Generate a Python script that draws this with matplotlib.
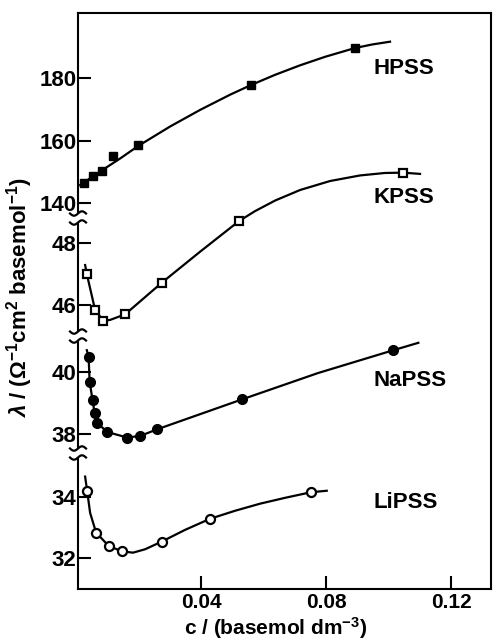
import numpy as np
import matplotlib
matplotlib.use("Agg")
import matplotlib.pyplot as plt
from matplotlib.patches import Rectangle

plt.rcParams['font.family'] = ['Liberation Sans', 'DejaVu Sans']
plt.rcParams['font.weight'] = 'bold'
plt.rcParams['mathtext.fontset'] = 'custom'
plt.rcParams['mathtext.rm'] = 'Liberation Sans:bold'
plt.rcParams['mathtext.it'] = 'Liberation Sans:bold:italic'
plt.rcParams['mathtext.bf'] = 'Liberation Sans:bold'

# measured points
hpss_c = [0.00256, 0.00534, 0.00822, 0.0119, 0.0199, 0.056, 0.0893]
hpss_l = [146.5, 148.7, 150.3, 155.0, 158.6, 177.8, 189.6]
kpss_c = [0.00342, 0.00608, 0.00874, 0.01568, 0.02742, 0.05216, 0.10474]
kpss_l = [47.00, 45.84, 45.49, 45.70, 46.72, 48.71, 50.27]
napss_c = [0.0040, 0.00432, 0.00528, 0.00592, 0.00682, 0.00992, 0.01632,
           0.02048, 0.02576, 0.0532, 0.1015]
napss_l = [40.49, 39.68, 39.07, 38.66, 38.34, 38.05, 37.87, 37.92, 38.14,
           39.11, 40.70]
lipss_c = [0.00352, 0.0064, 0.0104, 0.01472, 0.02742, 0.04288, 0.0751]
lipss_l = [34.19, 32.83, 32.40, 32.22, 32.54, 33.28, 34.16]

# hand drawn fit lines
hpss_fit_c = [0.00128, 0.00768, 0.01408, 0.01984, 0.03008, 0.03968, 0.04928,
              0.0560, 0.06368, 0.07168, 0.07968, 0.08928, 0.09472, 0.10048]
hpss_fit_l = [145.76, 150.08, 154.24, 158.24, 164.48, 169.79, 174.66,
              177.76, 181.02, 184.06, 186.78, 189.6, 190.72, 191.62]
kpss_fit_c = [0.00288, 0.00342, 0.00608, 0.00874, 0.01088, 0.01568, 0.02742,
              0.03968, 0.05216, 0.05728, 0.06368, 0.07168, 0.08128, 0.09088,
              0.09888, 0.10464, 0.11008]
kpss_fit_l = [47.29, 47.00, 45.84, 45.49, 45.52, 45.70, 46.72, 47.72, 48.71,
              49.03, 49.37, 49.71, 50.00, 50.18, 50.26, 50.27, 50.23]
napss_fit_c = [0.00342, 0.0040, 0.00432, 0.00528, 0.00592, 0.00682, 0.00992,
               0.01632, 0.02048, 0.02576, 0.05322, 0.07744, 0.10154, 0.10954]
napss_fit_l = [40.70, 40.49, 39.68, 39.07, 38.66, 38.34, 38.05, 37.87, 37.92,
               38.13, 39.11, 39.96, 40.70, 40.94]
lipss_fit_c = [0.00288, 0.00352, 0.00448, 0.0064, 0.0104, 0.01472, 0.01824,
               0.02208, 0.02742, 0.03488, 0.04288, 0.05088, 0.05888, 0.06688,
               0.0751, 0.08022]
lipss_fit_l = [34.65, 34.19, 33.47, 32.83, 32.40, 32.22, 32.18, 32.29, 32.54,
               32.92, 33.28, 33.54, 33.77, 33.96, 34.14, 34.19]

fig = plt.figure(figsize=(4.93, 6.43), dpi=100)
pos = [78 / 493, 1 - 589 / 643, 413 / 493, 576 / 643]
xlim = (0.0006, 0.1328)

ax = fig.add_axes(pos)
ax.set_xlim(*xlim)
ax.set_yticks([])
ax.set_xticks([0.04, 0.08, 0.12])
ax.set_xticklabels(['0.04', '0.08', '0.12'])
ax.tick_params(axis='x', direction='in', length=9.5, width=1.5, pad=3,
               labelsize=15)
for s in ax.spines.values():
    s.set_linewidth(1.5)

# one overlay per salt, each with its own lambda scale
series = [
    (hpss_c, hpss_l, hpss_fit_c, hpss_fit_l, (16.5, 200.8), [140, 160, 180],
     dict(marker='s', ms=6, mfc='black', mec='black'), 'HPSS', 183.2),
    (kpss_c, kpss_l, kpss_fit_c, kpss_fit_l, (36.84, 55.42), [46, 48],
     dict(marker='s', ms=6, mfc='white', mec='black', mew=1.6), 'KPSS', 49.48),
    (napss_c, napss_l, napss_fit_c, napss_fit_l, (32.96, 51.63), [38, 40],
     dict(marker='o', ms=7, mfc='black', mec='black'), 'NaPSS', 39.73),
    (lipss_c, lipss_l, lipss_fit_c, lipss_fit_l, (31.0, 49.70), [32, 34],
     dict(marker='o', ms=6.5, mfc='white', mec='black', mew=1.6), 'LiPSS', 33.80),
]

for c, lam, fc, fl, ylim, ticks, mk, name, ty in series:
    a = fig.add_axes(pos, frameon=False)
    a.patch.set_alpha(0)
    a.set_xlim(*xlim)
    a.set_ylim(*ylim)
    a.plot(fc, fl, color='black', lw=1.6, clip_on=False)
    a.plot(c, lam, ls='none', clip_on=False, **mk)
    a.set_xticks([])
    a.set_yticks(ticks)
    a.set_yticklabels([str(t) for t in ticks])
    a.tick_params(axis='y', direction='in', length=9.5, width=1.5, pad=1,
                  labelsize=16)
    a.text(0.0952, ty, name, fontsize=16, fontweight='bold',
           ha='left', va='center')

# axis breaks on the left spine
bw = 8 / 413
amp = 2.2 / 576
for yb in [0.6441, 0.4392, 0.2361]:
    ax.add_patch(Rectangle((-3 / 413, yb - 4 / 576), 6 / 413, 8 / 576,
                           transform=ax.transAxes, facecolor='white',
                           edgecolor='none', clip_on=False, zorder=5))
    t = np.linspace(-1, 1, 40)
    for dy in (-4.5 / 576, 4.5 / 576):
        ax.plot(t * bw, yb + dy + amp * np.sin(np.pi * t), color='black',
                lw=1.6, transform=ax.transAxes, clip_on=False, zorder=6)

fig.text(20 / 493, 1 - 298 / 643,
         r'$\lambda$ / ($\Omega^{-1}$cm$^{2}$ basemol$^{-1}$)',
         rotation=90, ha='center', va='center', fontsize=16, fontweight='bold')
fig.text(276 / 493, 1 - 635 / 643, r'c / (basemol dm$^{-3}$)',
         ha='center', va='baseline', fontsize=15, fontweight='bold')

fig.savefig('out.png', dpi=100)
